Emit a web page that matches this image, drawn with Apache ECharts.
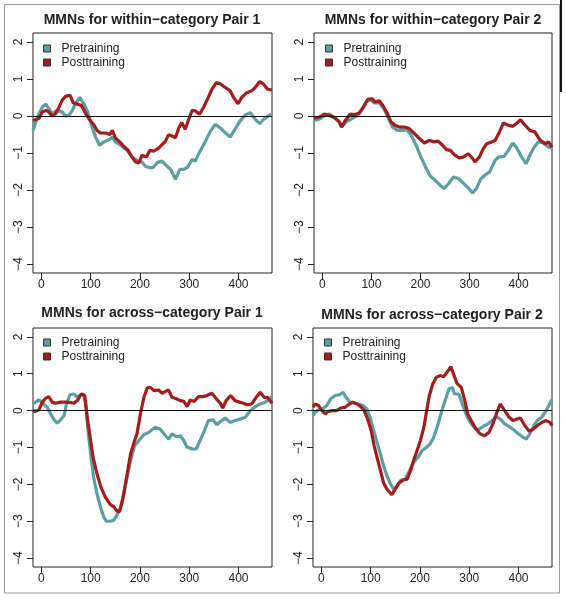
<!DOCTYPE html>
<html>
<head>
<meta charset="utf-8">
<script src="https://cdn.jsdelivr.net/npm/echarts@6/dist/echarts.min.js"></script>
<style>html,body{margin:0;padding:0;background:#fff}#c{width:566px;height:601px}</style>
</head>
<body>
<div id="c"></div>
<script>
// Panel titles
const titles = [
  'MMNs for within\u2212category Pair 1',
  'MMNs for within\u2212category Pair 2',
  'MMNs for across\u2212category Pair 1',
  'MMNs for across\u2212category Pair 2'
];
const seriesNames = ['Pretraining', 'Posttraining'];
const xTicks = [0, 100, 200, 300, 400];
const yTicks = [-4, -3, -2, -1, 0, 1, 2];
const xRange = [-17, 468];
const yRange = [-4.24, 2.24];

// [time (ms), amplitude]
const p1Pre = [[-17,-0.39],[-8,-0.03],[2,0.24],[9,0.32],[15,0.2],[22,0.06],[32,0.15],[42,0.11],[49,0],[56,0.02],[63,0.15],[69,0.33],[78,0.5],[86,0.33],[94,0.11],[103,-0.3],[110,-0.57],[118,-0.79],[127,-0.7],[137,-0.64],[144,-0.57],[150,-0.7],[157,-0.75],[167,-0.86],[174,-0.93],[184,-1.11],[194,-1.2],[204,-1.24],[211,-1.36],[221,-1.4],[228,-1.38],[235,-1.26],[245,-1.22],[252,-1.32],[262,-1.44],[272,-1.71],[281,-1.44],[289,-1.44],[297,-1.38],[306,-1.17],[312,-1.22],[322,-0.95],[333,-0.68],[343,-0.41],[353,-0.23],[363,-0.32],[373,-0.45],[383,-0.57],[393,-0.36],[403,-0.14],[414,0.03],[424,0.09],[434,-0.09],[443,-0.21],[451,-0.09],[464,0.03],[468,0.04]];
const p1Post = [[-17,-0.12],[-5,-0.07],[2,0.11],[9,0.15],[15,0.11],[22,0],[29,0.06],[36,0.24],[42,0.42],[49,0.53],[58,0.56],[65,0.35],[73,0.32],[81,0.29],[90,0.06],[98,-0.1],[107,-0.25],[113,-0.39],[120,-0.46],[130,-0.46],[139,-0.5],[144,-0.39],[150,-0.59],[159,-0.7],[167,-0.82],[175,-0.91],[184,-1.11],[191,-1.24],[198,-1.27],[204,-1.06],[213,-1.11],[220,-0.93],[228,-0.95],[238,-0.87],[245,-0.77],[252,-0.68],[258,-0.51],[265,-0.54],[272,-0.59],[279,-0.32],[285,-0.18],[292,-0.36],[299,-0.09],[306,0.15],[312,0.14],[321,0.05],[329,0.23],[339,0.51],[346,0.72],[355,0.9],[363,0.87],[373,0.77],[383,0.68],[390,0.5],[399,0.33],[407,0.51],[417,0.63],[427,0.68],[434,0.77],[443,0.93],[451,0.86],[459,0.72],[468,0.7]];
const p2Pre = [[-17,-0.12],[-6,-0.09],[4,0],[14,0.05],[25,-0.05],[35,-0.16],[41,-0.28],[48,-0.16],[57,-0.1],[65,-0.03],[73,0.02],[82,0.2],[89,0.38],[98,0.44],[106,0.35],[116,0.35],[125,0.2],[135,-0.07],[143,-0.3],[153,-0.39],[164,-0.39],[172,-0.37],[181,-0.52],[191,-0.79],[201,-1.11],[211,-1.4],[220,-1.62],[230,-1.74],[240,-1.87],[248,-1.96],[257,-1.83],[267,-1.65],[277,-1.69],[287,-1.81],[297,-1.94],[306,-2.08],[314,-1.96],[322,-1.72],[331,-1.6],[341,-1.51],[352,-1.2],[359,-1.11],[370,-1.09],[379,-0.93],[388,-0.73],[396,-0.86],[404,-1.06],[415,-1.29],[423,-1.06],[431,-0.86],[440,-0.7],[450,-0.73],[461,-0.84],[468,-0.86]];
const p2Post = [[-17,-0.05],[-6,-0.03],[4,0.05],[14,0.02],[25,-0.05],[33,-0.14],[39,-0.3],[48,-0.1],[57,0.05],[67,0.04],[75,0.08],[84,0.24],[92,0.44],[101,0.47],[107,0.38],[116,0.41],[123,0.29],[132,0.08],[140,-0.16],[148,-0.25],[157,-0.3],[167,-0.3],[177,-0.34],[188,-0.48],[198,-0.61],[208,-0.73],[218,-0.66],[228,-0.7],[236,-0.68],[245,-0.79],[253,-0.91],[261,-0.93],[270,-1.06],[279,-1.13],[287,-1.11],[297,-1.02],[304,-1.11],[311,-1.24],[320,-1.11],[328,-0.88],[335,-0.75],[345,-0.7],[352,-0.66],[361,-0.43],[369,-0.19],[379,-0.25],[388,-0.28],[397,-0.19],[404,-0.1],[413,-0.25],[423,-0.39],[433,-0.43],[443,-0.64],[454,-0.75],[461,-0.7],[468,-0.84]];
const p3Pre = [[-17,0.18],[-12,0.23],[-5,0.29],[4,0.18],[12,0.09],[19,-0.09],[26,-0.25],[32,-0.34],[39,-0.25],[46,-0.14],[51,0.18],[58,0.43],[66,0.45],[73,0.36],[80,0.43],[85,0.45],[90,0.18],[94,-0.45],[100,-1.18],[106,-1.81],[113,-2.26],[120,-2.62],[127,-2.9],[132,-3.0],[140,-3.0],[147,-2.97],[154,-2.82],[161,-2.62],[167,-2.26],[174,-1.81],[181,-1.36],[189,-0.95],[198,-0.81],[208,-0.65],[218,-0.59],[231,-0.45],[241,-0.5],[252,-0.68],[258,-0.77],[265,-0.63],[275,-0.71],[282,-0.68],[289,-0.81],[295,-0.98],[306,-1.04],[314,-1.04],[322,-0.81],[331,-0.54],[339,-0.27],[348,-0.25],[356,-0.38],[364,-0.29],[373,-0.2],[383,-0.32],[393,-0.27],[404,-0.23],[414,-0.18],[424,0],[434,0.11],[444,0.18],[454,0.23],[464,0.32],[468,0.4]];
const p3Post = [[-17,0],[-12,-0.02],[-5,0.02],[2,0.23],[9,0.34],[15,0.38],[22,0.23],[29,0.2],[39,0.23],[49,0.23],[58,0.22],[66,0.2],[74,0.29],[81,0.45],[88,0.41],[93,-0.18],[99,-0.72],[105,-1.27],[113,-1.72],[121,-2.08],[130,-2.35],[139,-2.53],[147,-2.61],[154,-2.73],[159,-2.73],[166,-2.35],[174,-1.72],[181,-1.18],[188,-0.86],[194,-0.63],[201,-0.09],[208,0.36],[215,0.62],[221,0.63],[229,0.54],[238,0.56],[245,0.47],[252,0.52],[258,0.56],[265,0.36],[274,0.32],[282,0.27],[289,0.25],[296,0.11],[302,0.29],[310,0.25],[319,0.38],[328,0.38],[336,0.41],[346,0.47],[355,0.32],[363,0.2],[368,0.07],[375,0.27],[384,0.41],[393,0.27],[402,0.23],[410,0.2],[418,0.16],[427,0.18],[436,0.36],[444,0.5],[452,0.36],[459,0.36],[468,0.2]];
const p4Pre = [[-17,-0.14],[-13,-0.05],[-6,0.02],[3,0.05],[11,0.14],[19,0.32],[28,0.41],[37,0.43],[44,0.5],[50,0.36],[58,0.23],[67,0.2],[75,0.18],[84,0.14],[92,0.05],[99,-0.18],[106,-0.54],[113,-0.86],[120,-1.18],[126,-1.49],[133,-1.76],[140,-1.99],[147,-2.13],[154,-2.04],[162,-1.88],[170,-1.86],[179,-1.63],[187,-1.4],[196,-1.27],[204,-1.09],[213,-1.0],[221,-0.9],[228,-0.72],[236,-0.4],[244,-0.02],[250,0.23],[259,0.59],[266,0.63],[270,0.45],[279,0.45],[287,0.14],[295,-0.14],[304,-0.36],[313,-0.5],[321,-0.5],[330,-0.41],[338,-0.36],[347,-0.27],[355,-0.16],[363,-0.23],[372,-0.36],[381,-0.43],[390,-0.52],[399,-0.62],[408,-0.71],[416,-0.77],[423,-0.63],[431,-0.41],[438,-0.27],[447,-0.18],[456,0],[465,0.23],[468,0.3]];
const p4Post = [[-17,0.09],[-13,0.18],[-6,0.14],[1,0],[8,-0.09],[14,-0.02],[23,0],[31,0],[39,0.07],[48,0.09],[57,0.18],[64,0.23],[72,0.18],[80,0.11],[87,0],[94,-0.23],[101,-0.54],[107,-0.95],[113,-1.27],[120,-1.63],[126,-1.95],[133,-2.13],[139,-2.22],[143,-2.28],[150,-2.13],[157,-1.97],[166,-1.88],[174,-1.86],[181,-1.63],[187,-1.36],[194,-1.09],[201,-0.81],[208,-0.45],[213,-0.05],[219,0.4],[226,0.72],[233,0.9],[241,0.95],[248,0.92],[255,1.04],[263,1.19],[268,1.0],[275,0.74],[284,0.63],[291,0.27],[297,-0.09],[306,-0.32],[314,-0.5],[322,-0.63],[331,-0.68],[340,-0.59],[348,-0.36],[355,-0.09],[363,0.18],[372,0],[381,-0.18],[389,-0.27],[397,-0.23],[404,-0.2],[413,-0.41],[422,-0.56],[430,-0.5],[438,-0.41],[447,-0.32],[456,-0.27],[464,-0.32],[468,-0.41]];

const panelData = [[p1Pre, p1Post], [p2Pre, p2Post], [p3Pre, p3Post], [p4Pre, p4Post]];

// layout
const grids = [
  {left: 33, top: 33, width: 239, height: 240},
  {left: 314, top: 33, width: 238, height: 240},
  {left: 33, top: 328, width: 239, height: 239},
  {left: 313, top: 328, width: 239, height: 239}
];
const titlePos = [[152, 13], [433, 13], [152, 306], [432, 308]];
const legendPos = [[43, 42], [325, 42], [43, 336], [324, 336]];
const colors = ['#5c9ea2', '#a21e1e'];
const FONT = '"Liberation Sans", Arial, Helvetica, sans-serif';

const option = {
  animation: false,
  backgroundColor: '#fff',
  textStyle: {fontFamily: FONT},
  title: titles.map((t, i) => ({
    text: t, left: titlePos[i][0], top: titlePos[i][1], textAlign: 'center', padding: 0,
    textStyle: {fontSize: 14, fontWeight: 'bold', color: '#222', fontFamily: FONT}
  })),
  legend: legendPos.map(p => ({
    orient: 'vertical', left: p[0], top: p[1], padding: 0,
    itemWidth: 7, itemHeight: 7, itemGap: 1, icon: 'rect',
    data: seriesNames, selectedMode: false,
    itemStyle: {borderColor: '#333', borderWidth: 1},
    textStyle: {fontSize: 12, color: '#222', padding: [0, 0, 0, 6], lineHeight: 13, fontFamily: FONT}
  })),
  grid: grids.map(g => Object.assign({show: true, borderColor: '#222', borderWidth: 1, backgroundColor: 'transparent', containLabel: false}, g)),
  xAxis: grids.map((g, i) => ({
    type: 'value', gridIndex: i, min: xRange[0], max: xRange[1], position: 'bottom',
    axisLine: {show: false, onZero: false},
    axisTick: {show: true, length: 6, customValues: xTicks, lineStyle: {color: '#222'}},
    axisLabel: {customValues: xTicks, fontSize: 12, color: '#222', margin: 6, fontFamily: FONT},
    splitLine: {show: false}
  })),
  yAxis: grids.map((g, i) => ({
    type: 'value', gridIndex: i, min: yRange[0], max: yRange[1], position: 'left',
    axisLine: {show: false, onZero: false},
    axisTick: {show: true, length: 6, customValues: yTicks, lineStyle: {color: '#222'}},
    axisLabel: {customValues: yTicks, rotate: 90, fontSize: 12, color: '#222', margin: 8, fontFamily: FONT,
      formatter: v => String(v).replace('-', '\u2212')},
    splitLine: {show: false}
  })),
  series: [],
  graphic: [
    {type: 'rect', shape: {x: 4.5, y: 4.5, width: 555, height: 588.5}, style: {fill: 'none', stroke: '#999', lineWidth: 1}, silent: true},
    {type: 'line', shape: {x1: 561, y1: 0, x2: 561, y2: 92}, style: {stroke: '#111', lineWidth: 2}, silent: true}
  ]
};

panelData.forEach((pair, i) => {
  pair.forEach((d, k) => {
    const s = {
      name: seriesNames[k], type: 'line', xAxisIndex: i, yAxisIndex: i,
      data: d, showSymbol: false, symbol: 'none', smooth: false,
      color: colors[k],
      lineStyle: {color: colors[k], width: 3.2},
      z: 2 + k
    };
    if (k === 1) {
      s.markLine = {
        silent: true, symbol: ['none', 'none'], label: {show: false},
        lineStyle: {color: '#111', width: 1, type: 'solid'},
        data: [{yAxis: 0}]
      };
    }
    option.series.push(s);
  });
});

const chart = echarts.init(document.getElementById('c'), null, {renderer: 'canvas'});
chart.setOption(option);
</script>
</body>
</html>
